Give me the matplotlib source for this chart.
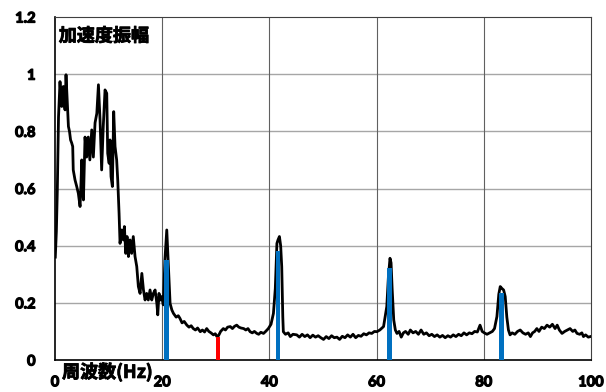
import matplotlib
matplotlib.use("Agg")
import matplotlib.pyplot as plt
import matplotlib.patheffects as pe

freq_hz = [0.05, 0.25, 0.43, 0.65, 0.93, 1.1, 1.25, 1.4, 1.55, 1.7, 1.87, 2.05, 2.3, 2.5, 2.7, 2.9, 3.1, 3.3, 3.4,
           3.73, 4.05, 4.35, 4.67, 4.85, 4.98, 5.15, 5.3, 5.6, 5.9, 6.2, 6.5, 6.85, 7.15, 7.47, 7.8, 8.1, 8.4, 8.7,
           9.0, 9.33, 9.65, 9.83, 10.1, 10.27, 10.45, 10.7, 10.95, 11.2, 11.5, 11.7, 11.95, 12.13, 12.45, 12.75,
           12.94, 13.2, 13.44, 13.7, 14.0, 14.3, 14.6, 14.93, 15.25, 15.55, 15.87, 16.2, 16.5, 16.8, 17.1, 17.4,
           17.73, 18.05, 18.35, 18.67, 19.0, 19.17, 19.4, 19.65, 19.9, 20.2, 20.5, 20.85, 21.1, 21.47, 21.8, 22.1,
           22.6, 23.0, 23.3, 23.7, 24.1, 24.6, 25.0, 25.4, 25.8, 26.2, 26.6, 27.1, 27.5, 27.9, 28.3, 28.7, 29.1,
           29.55, 29.9, 30.2, 30.5, 30.9, 31.4, 31.8, 32.2, 32.7, 33.1, 33.5, 33.9, 34.3, 34.7, 35.2, 35.6, 36.0,
           36.4, 36.8, 37.2, 37.65, 38.0, 38.4, 38.9, 39.3, 39.8, 40.3, 40.75, 41.1, 41.4, 41.6, 41.87, 42.1, 42.3,
           42.5, 42.6, 43.0, 43.5, 43.9, 44.4, 45.1, 45.6, 46.1, 46.6, 47.1, 47.6, 48.1, 48.6, 49.1, 49.6, 50.1,
           50.6, 51.1, 51.6, 52.1, 52.6, 53.1, 53.6, 54.1, 54.6, 55.1, 55.6, 56.1, 56.6, 57.1, 57.6, 58.1, 58.6,
           59.1, 59.6, 60.05, 60.6, 61.3, 61.9, 62.2, 62.5, 62.7, 62.9, 63.2, 63.5, 63.8, 64.2, 64.6, 65.0, 65.4,
           65.9, 66.3, 66.8, 67.3, 67.8, 68.3, 68.8, 69.3, 69.8, 70.3, 70.8, 71.3, 71.8, 72.3, 72.8, 73.3, 73.8,
           74.3, 74.8, 75.3, 75.8, 76.3, 76.8, 77.3, 77.8, 78.3, 78.8, 79.3, 79.7, 80.1, 80.6, 81.1, 81.6, 82.0,
           82.45, 82.8, 83.07, 83.4, 83.7, 84.0, 84.3, 84.6, 84.9, 85.3, 85.8, 86.3, 86.8, 87.3, 87.8, 88.3, 88.7,
           89.1, 89.5, 89.9, 90.3, 90.8, 91.3, 91.8, 92.3, 92.8, 93.3, 93.7, 94.1, 94.6, 95.1, 95.6, 96.1, 96.6,
           97.0, 97.4, 97.9, 98.3, 98.6, 99.0, 99.5, 99.9]

accel_amp = [0.36, 0.45, 0.595, 0.85, 0.974, 0.92, 0.887, 0.94, 0.957, 0.90, 0.875, 0.998, 0.90, 0.817, 0.80, 0.77,
             0.76, 0.747, 0.665, 0.63, 0.607, 0.583, 0.537, 0.62, 0.70, 0.60, 0.56, 0.78, 0.71, 0.78, 0.70, 0.805,
             0.71, 0.83, 0.863, 0.963, 0.84, 0.665, 0.817, 0.945, 0.933, 0.723, 0.688, 0.77, 0.642, 0.607, 0.869,
             0.747, 0.70, 0.63, 0.513, 0.408, 0.455, 0.42, 0.467, 0.373, 0.432, 0.362, 0.42, 0.373, 0.432, 0.362,
             0.327, 0.257, 0.233, 0.303, 0.245, 0.21, 0.233, 0.21, 0.245, 0.21, 0.233, 0.245, 0.198, 0.158, 0.233,
             0.21, 0.222, 0.193, 0.35, 0.455, 0.35, 0.198, 0.175, 0.163, 0.15, 0.155, 0.146, 0.13, 0.135, 0.122,
             0.115, 0.12, 0.11, 0.105, 0.112, 0.099, 0.105, 0.098, 0.11, 0.10, 0.095, 0.088, 0.092, 0.082, 0.085,
             0.10, 0.11, 0.105, 0.115, 0.117, 0.11, 0.118, 0.122, 0.115, 0.112, 0.11, 0.105, 0.11, 0.099, 0.095,
             0.10, 0.093, 0.09, 0.097, 0.093, 0.10, 0.11, 0.125, 0.163, 0.25, 0.408, 0.42, 0.432, 0.40, 0.327,
             0.15, 0.099, 0.09, 0.095, 0.082, 0.09, 0.088, 0.08, 0.09, 0.082, 0.088, 0.078, 0.087, 0.08, 0.085,
             0.078, 0.072, 0.082, 0.075, 0.085, 0.078, 0.08, 0.072, 0.083, 0.078, 0.088, 0.08, 0.09, 0.078, 0.086,
             0.083, 0.092, 0.088, 0.095, 0.093, 0.10, 0.099, 0.105, 0.117, 0.187, 0.29, 0.356, 0.34, 0.25, 0.14,
             0.105, 0.093, 0.10, 0.08, 0.095, 0.10, 0.09, 0.105, 0.095, 0.10, 0.09, 0.105, 0.09, 0.095, 0.085,
             0.09, 0.082, 0.088, 0.08, 0.086, 0.078, 0.085, 0.08, 0.088, 0.082, 0.09, 0.085, 0.095, 0.088, 0.095,
             0.092, 0.10, 0.098, 0.122, 0.10, 0.095, 0.09, 0.095, 0.10, 0.11, 0.152, 0.23, 0.257, 0.25, 0.245,
             0.222, 0.15, 0.105, 0.088, 0.095, 0.09, 0.10, 0.105, 0.095, 0.09, 0.095, 0.082, 0.095, 0.10, 0.11,
             0.10, 0.115, 0.11, 0.122, 0.115, 0.125, 0.11, 0.122, 0.105, 0.093, 0.10, 0.105, 0.11, 0.10, 0.105,
             0.093, 0.09, 0.095, 0.082, 0.088, 0.08, 0.082]

peak_freq = [20.85, 41.6, 62.4, 83.3]
peak_amp = [0.35, 0.38, 0.323, 0.233]
valley_freq = [30.4]
valley_amp = [0.082]

x_ticks = [0, 20, 40, 60, 80, 100]
y_ticks = [0, 0.2, 0.4, 0.6, 0.8, 1.0, 1.2]
y_tick_labels = ["0", "0.2", "0.4", "0.6", "0.8", "1", "1.2"]

fig = plt.figure(figsize=(6.06, 3.92), dpi=100)
ax = fig.add_axes([0.0908, 0.0816, 0.8844, 0.875])

ax.plot(freq_hz, accel_amp, color="black", lw=2.0, zorder=3)
ax.bar(peak_freq, peak_amp, width=0.85, color="#0070C0", zorder=4)
ax.bar(valley_freq, valley_amp, width=0.85, color="#FF0000", zorder=4)

ax.set_xlim(0, 100)
ax.set_ylim(0, 1.2)
ax.set_xticks(x_ticks)
ax.set_xticklabels([str(t) for t in x_ticks])
ax.set_yticks(y_ticks)
ax.set_yticklabels(y_tick_labels)

for v in y_ticks[1:-1]:
    ax.axhline(v, color="#a6a6a6", lw=1.0, zorder=1)
for v in x_ticks[1:-1]:
    ax.axvline(v, color="#606060", lw=0.8, zorder=1)

for s in ["left", "bottom"]:
    ax.spines[s].set_linewidth(1.2)
    ax.spines[s].set_color("black")
for s in ["top", "right"]:
    ax.spines[s].set_linewidth(0.8)
    ax.spines[s].set_color("#404040")

bold_fx = [pe.withStroke(linewidth=0.9, foreground="black")]
ax.tick_params(axis="both", length=0, labelsize=10.5)
ax.tick_params(axis="y", pad=14)
ax.tick_params(axis="x", pad=11)
for lbl in ax.get_xticklabels() + ax.get_yticklabels():
    lbl.set_fontweight("bold")
    lbl.set_family(["Lato", "DejaVu Sans"])
    lbl.set_path_effects(bold_fx)

cjk_fx = [pe.withStroke(linewidth=0.6, foreground="black")]
ax.text(0.007, 0.945, "加速度振幅", transform=ax.transAxes, fontsize=13, fontweight="bold",
        family=["Noto Sans CJK JP", "DejaVu Sans"], va="center", ha="left", zorder=5,
        path_effects=cjk_fx)
fig.text(62 / 606, 1 - 372 / 392, "周波数(Hz)", fontsize=13, fontweight="bold",
         family=["Noto Sans CJK JP", "DejaVu Sans"], va="center", ha="left",
         path_effects=cjk_fx)

fig.savefig("out.png", dpi=100)
